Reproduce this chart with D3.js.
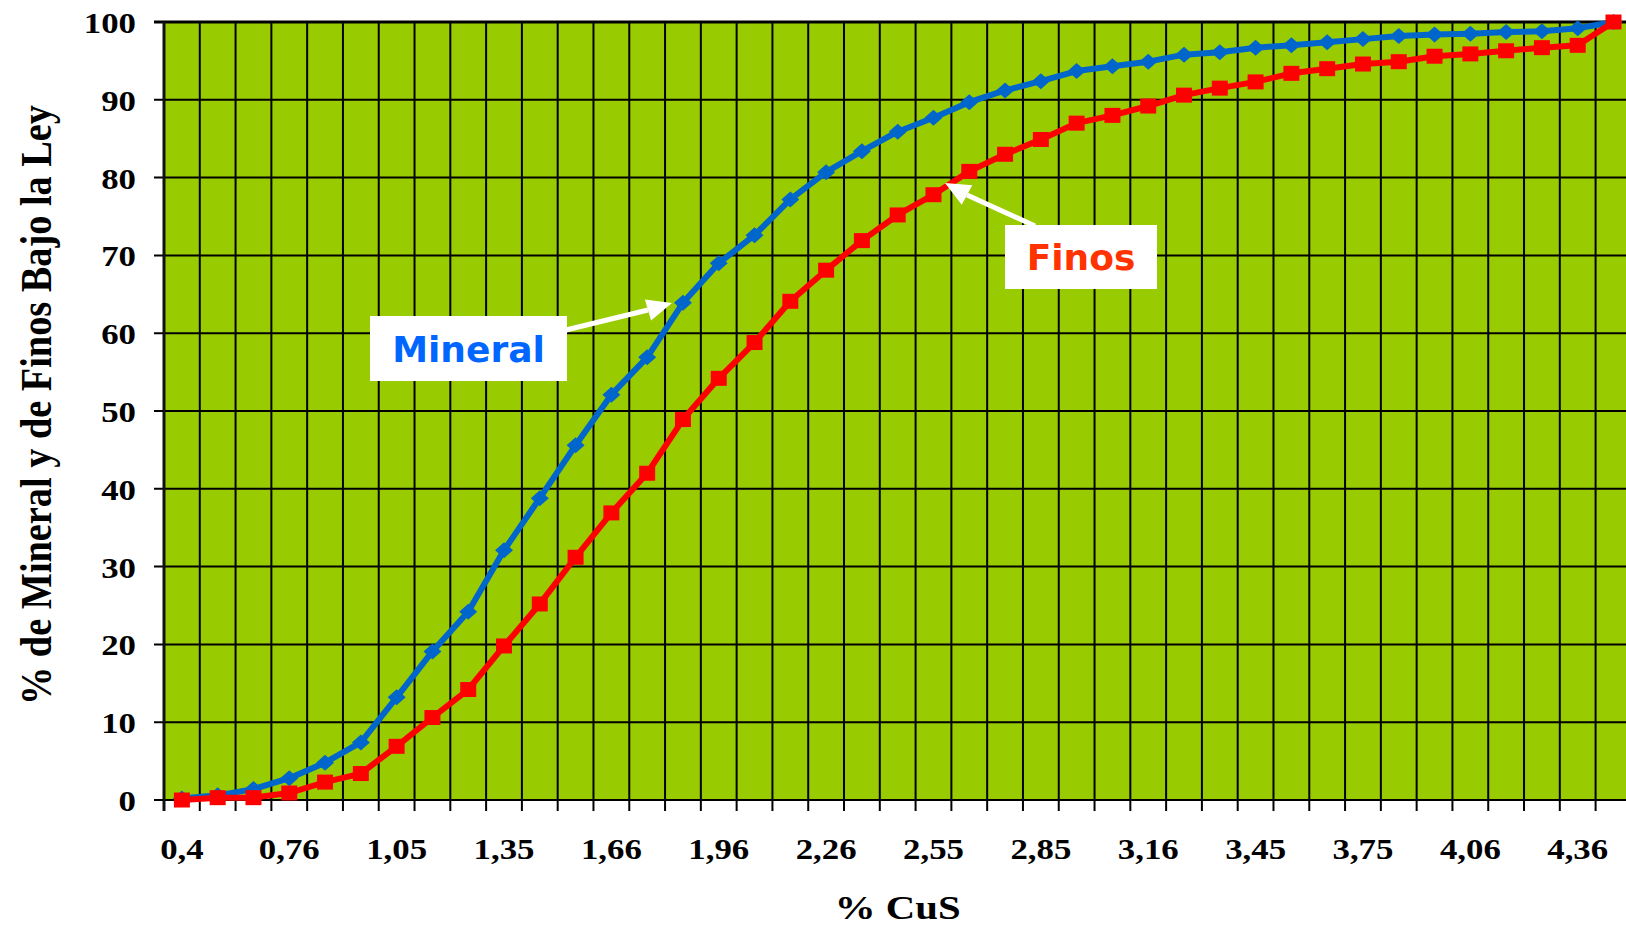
<!DOCTYPE html>
<html>
<head>
<meta charset="utf-8">
<script src="https://cdnjs.cloudflare.com/ajax/libs/d3/7.8.5/d3.min.js"></script>
<style>
	body { margin: 0; background: #fff; }
	svg { display: block; }
</style>
</head>
<body>
<svg id="chart" width="1626" height="925"></svg>
<script>

var categories = ["0,4","0,52","0,64","0,76","0,86","0,95","1,05","1,15","1,25","1,35",
	"1,45","1,56","1,66","1,76","1,86","1,96","2,06","2,16","2,26","2,36",
	"2,45","2,55","2,65","2,75","2,85","2,95","3,06","3,16","3,26","3,35",
	"3,45","3,55","3,65","3,75","3,85","3,96","4,06","4,16","4,26","4,36","4,46"];

var mineral = [0.2, 0.6, 1.4, 2.8, 4.8, 7.4, 13.2, 19.1, 24.2, 32.1,
	38.8, 45.6, 52.1, 56.9, 63.9, 69.0, 72.6, 77.2, 80.7, 83.4,
	85.9, 87.7, 89.7, 91.2, 92.4, 93.7, 94.3, 94.9, 95.8, 96.1,
	96.7, 97.0, 97.4, 97.8, 98.2, 98.4, 98.5, 98.7, 98.8, 99.2, 100];

var finos = [0, 0.3, 0.3, 0.9, 2.3, 3.4, 6.9, 10.6, 14.2, 19.8,
	25.2, 31.2, 36.9, 42.0, 48.9, 54.2, 58.8, 64.1, 68.1, 71.9,
	75.2, 77.8, 80.8, 83.0, 84.9, 87.0, 88.0, 89.2, 90.6, 91.5,
	92.3, 93.4, 94.0, 94.6, 94.9, 95.6, 95.9, 96.3, 96.7, 97.0, 100];

var yTicks = [0, 10, 20, 30, 40, 50, 60, 70, 80, 90, 100];

var xTickLabels = categories.filter(function (d, i) { return i % 3 == 0 && i < 40; });

var serif = "'Liberation Serif', 'Times New Roman', serif";
var sans = "'DejaVu Sans', Verdana, sans-serif";

var svg = d3.select("#chart");

var plotLeft = 164, plotTop = 22, plotBottom = 800;
var bandWidth = 35.79;

var x = d3.scaleBand()
	.domain(categories)
	.range([plotLeft, plotLeft + bandWidth * categories.length])
	.padding(0);

var y = d3.scaleLinear()
	.domain([0, 100])
	.range([plotBottom, plotTop]);

var plotRight = x.range()[1];

var cx = function (i) { return x(categories[i]) + x.bandwidth() / 2; };

// Plot area

svg.append("rect")
	.attr("x", plotLeft)
	.attr("y", plotTop)
	.attr("width", plotRight - plotLeft)
	.attr("height", plotBottom - plotTop)
	.attr("fill", "#99cc00");

// Grid

svg.append("g")
	.selectAll("line")
	.data(yTicks)
	.enter().append("line")
	.attr("x1", plotLeft - 10)
	.attr("x2", plotRight)
	.attr("y1", function (d) { return y(d); })
	.attr("y2", function (d) { return y(d); })
	.attr("stroke", "#000")
	.attr("stroke-width", function (d) { return d == 100 ? 3 : 2; });

svg.append("g")
	.selectAll("line")
	.data(categories)
	.enter().append("line")
	.attr("x1", function (d) { return x(d); })
	.attr("x2", function (d) { return x(d); })
	.attr("y1", plotTop)
	.attr("y2", plotBottom + 11)
	.attr("stroke", "#000")
	.attr("stroke-width", 2);

svg.append("line")
	.attr("x1", plotLeft)
	.attr("x2", plotLeft)
	.attr("y1", plotTop)
	.attr("y2", plotBottom + 11)
	.attr("stroke", "#111")
	.attr("stroke-width", 3);

// Axes labels

var yAxis = d3.axisLeft(y)
	.tickValues(yTicks)
	.tickSize(0)
	.tickPadding(0);

var gy = svg.append("g")
	.attr("transform", "translate(136,0)")
	.call(yAxis);

gy.select(".domain").remove();

gy.selectAll("text")
	.attr("x", 0)
	.attr("dy", "0.36em")
	.attr("transform", "scale(1.2,1)")
	.attr("fill", "#000")
	.style("font-family", serif)
	.style("font-size", "29px")
	.style("font-weight", "bold")
	.style("text-anchor", "end");

var xAxis = d3.axisBottom(x)
	.tickValues(xTickLabels)
	.tickSize(0)
	.tickPadding(0);

var gx = svg.append("g")
	.attr("transform", "translate(0,859)")
	.call(xAxis);

gx.select(".domain").remove();

gx.selectAll("text")
	.attr("y", 0)
	.attr("dy", 0)
	.attr("transform", "scale(1.2,1)")
	.attr("fill", "#000")
	.style("font-family", serif)
	.style("font-size", "29px")
	.style("font-weight", "bold")
	.style("text-anchor", "middle");

var midX = (plotLeft + plotRight) / 2;

svg.append("text")
	.attr("x", 0)
	.attr("y", 0)
	.attr("transform", "translate(" + midX + ",919) scale(1.2,1)")
	.attr("fill", "#000")
	.style("font-family", serif)
	.style("font-size", "34px")
	.style("font-weight", "bold")
	.style("text-anchor", "middle")
	.text("% CuS");

svg.append("text")
	.attr("transform", "translate(51,405) rotate(-90)")
	.attr("fill", "#000")
	.attr("textLength", 600)
	.attr("lengthAdjust", "spacingAndGlyphs")
	.style("font-family", serif)
	.style("font-size", "44px")
	.style("font-weight", "bold")
	.style("text-anchor", "middle")
	.text("% de Mineral y de Finos Bajo la Ley");

// Series

var line = d3.line()
	.x(function (d, i) { return cx(i); })
	.y(function (d) { return y(d); });

svg.append("path")
	.attr("d", line(mineral))
	.attr("fill", "none")
	.attr("stroke", "#0066cc")
	.attr("stroke-width", 6)
	.attr("stroke-linejoin", "round");

svg.append("g")
	.selectAll("path")
	.data(mineral)
	.enter().append("path")
	.attr("d", "M0,-8L9,0L0,8L-9,0Z")
	.attr("transform", function (d, i) { return "translate(" + cx(i) + "," + y(d) + ")"; })
	.attr("fill", "#0066cc");

svg.append("path")
	.attr("d", line(finos))
	.attr("fill", "none")
	.attr("stroke", "#ff0000")
	.attr("stroke-width", 6)
	.attr("stroke-linejoin", "round");

svg.append("g")
	.selectAll("rect")
	.data(finos)
	.enter().append("rect")
	.attr("x", function (d, i) { return cx(i) - 8; })
	.attr("y", function (d) { return y(d) - 7.5; })
	.attr("width", 16)
	.attr("height", 15)
	.attr("fill", "#ff0000");

// Callouts

function callout(box, label, color, from, tip, head) {

	svg.append("line")
		.attr("x1", from[0])
		.attr("y1", from[1])
		.attr("x2", head[0])
		.attr("y2", head[1])
		.attr("stroke", "#fff")
		.attr("stroke-width", 5);

	var dx = tip[0] - head[0], dy = tip[1] - head[1];
	var len = Math.sqrt(dx * dx + dy * dy);
	var nx = -dy / len * 11, ny = dx / len * 11;

	svg.append("path")
		.attr("d", "M" + tip[0] + "," + tip[1] +
			"L" + (head[0] + nx) + "," + (head[1] + ny) +
			"L" + (head[0] - nx) + "," + (head[1] - ny) + "Z")
		.attr("fill", "#fff");

	svg.append("rect")
		.attr("x", box[0])
		.attr("y", box[1])
		.attr("width", box[2])
		.attr("height", box[3])
		.attr("fill", "#fff");

	svg.append("text")
		.attr("x", box[0] + box[2] / 2)
		.attr("y", box[1] + box[3] / 2 + 13)
		.attr("fill", color)
		.style("font-family", sans)
		.style("font-size", "36px")
		.style("font-weight", "bold")
		.style("text-anchor", "middle")
		.text(label);
}

callout([370, 316, 197, 65], "Mineral", "#0066ff", [566, 330], [672, 303], [648, 310]);
callout([1005, 225, 152, 64], "Finos", "#ff3300", [1035, 226], [945, 183], [967, 195]);

</script>
</body>
</html>
